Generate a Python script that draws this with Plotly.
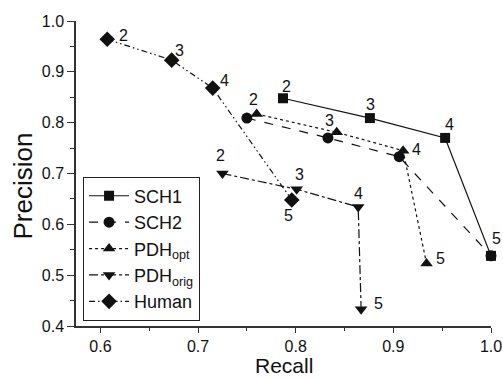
import plotly.graph_objects as go

# ---- data ----
series_names = ["SCH1", "SCH2", "PDH<sub>opt</sub>", "PDH<sub>orig</sub>", "Human"]
k_labels = ["2", "3", "4", "5"]

sch1_recall = [0.787, 0.876, 0.953, 1.0]
sch1_precision = [0.848, 0.809, 0.770, 0.538]

sch2_recall = [0.750, 0.833, 0.906, 1.0]
sch2_precision = [0.809, 0.770, 0.733, 0.538]

pdhopt_recall = [0.760, 0.842, 0.910, 0.934]
pdhopt_precision = [0.817, 0.781, 0.745, 0.523]

pdhorig_recall = [0.725, 0.801, 0.864, 0.867]
pdhorig_precision = [0.700, 0.669, 0.634, 0.433]

human_recall = [0.607, 0.673, 0.715, 0.796]
human_precision = [0.964, 0.923, 0.868, 0.648]

x_ticks = [0.6, 0.7, 0.8, 0.9, 1.0]
y_ticks = [0.4, 0.5, 0.6, 0.7, 0.8, 0.9, 1.0]
x_title = "Recall"
y_title = "Precision"

# ---- styles ----
FONT = "Arial, Liberation Sans, sans-serif"
INK = "#111111"
styles = [
    dict(dash="solid", symbol="square", size=10),
    dict(dash="dash", symbol="circle", size=11),
    dict(dash="dot", symbol="triangle-up", size=11),
    dict(dash="dashdot", symbol="triangle-down", size=11),
    dict(dash="6px,3px,1.5px,3px,1.5px,3px", symbol="diamond", size=12),
]
xs = [sch1_recall, sch2_recall, pdhopt_recall, pdhorig_recall, human_recall]
ys = [sch1_precision, sch2_precision, pdhopt_precision, pdhorig_precision, human_precision]

fig = go.Figure()
for name, x, y, st in zip(series_names, xs, ys, styles):
    fig.add_trace(go.Scatter(
        x=x, y=y, name=name, mode="lines+markers",
        line=dict(color=INK, width=1.2, dash=st["dash"]),
        marker=dict(color=INK, symbol=st["symbol"], size=st["size"]),
        cliponaxis=False,
    ))

# point labels: (series index, point index, xshift, yshift)
label_offsets = [
    (0, 0, 3, 12), (0, 1, 1, 14), (0, 2, 4, 13),
    (1, 0, 7, 19), (1, 1, 2, 17), (1, 2, 17, 7), (1, 3, 5, 17),
    (2, 3, 14, 5),
    (3, 0, -2, 18), (3, 1, 3, 15), (3, 2, 0, 14), (3, 3, 17, 6),
    (4, 0, 16, 4), (4, 1, 8, 10), (4, 2, 12, 8), (4, 3, -3, -16),
]
for si, pi, dx, dy in label_offsets:
    fig.add_annotation(
        x=xs[si][pi], y=ys[si][pi], text=k_labels[pi], showarrow=False,
        xshift=dx, yshift=dy, font=dict(family=FONT, size=16, color=INK),
    )

# axis titles as paper-anchored annotations
fig.add_annotation(
    x=0.5, y=0, xref="paper", yref="paper", yanchor="middle", yshift=-39,
    text=x_title, showarrow=False, borderpad=0,
    font=dict(family=FONT, size=21, color=INK),
)
fig.add_annotation(
    x=0, y=0.5, xref="paper", yref="paper", xanchor="center", xshift=-54, yshift=-13,
    text=y_title, textangle=-90, showarrow=False,
    font=dict(family=FONT, size=26, color=INK),
)

axis_common = dict(
    showgrid=False, zeroline=False, showline=True, linecolor="#333333", linewidth=1.5,
    ticks="outside", tickwidth=1.2, tickcolor="#333333",
    tickfont=dict(family=FONT, size=16, color=INK), automargin=False,
)
fig.update_xaxes(
    range=[0.575, 1.0], tickvals=x_ticks, ticktext=[f"{v:.1f}" for v in x_ticks], ticklen=5,
    minor=dict(dtick=0.05, tick0=0.0, ticks="outside", ticklen=3, tickcolor="#333333"),
    **axis_common,
)
fig.update_yaxes(
    range=[0.4, 1.0], tickvals=y_ticks, ticktext=[f"{v:.1f}" for v in y_ticks], ticklen=7,
    minor=dict(dtick=0.05, tick0=0.0, ticks="outside", ticklen=4, tickcolor="#333333"),
    **axis_common,
)

fig.update_layout(
    width=503, height=378,
    margin=dict(l=76, r=12, t=21, b=52, autoexpand=False),
    paper_bgcolor="white", plot_bgcolor="white",
    font=dict(family=FONT, color=INK),
    legend=dict(
        x=0.017, y=0.49, xanchor="left", yanchor="top",
        bgcolor="white", bordercolor="#222222", borderwidth=1,
        font=dict(family=FONT, size=18, color=INK),
        itemwidth=40, tracegroupgap=0,
    ),
    showlegend=True,
)

fig.write_html("out.html")
